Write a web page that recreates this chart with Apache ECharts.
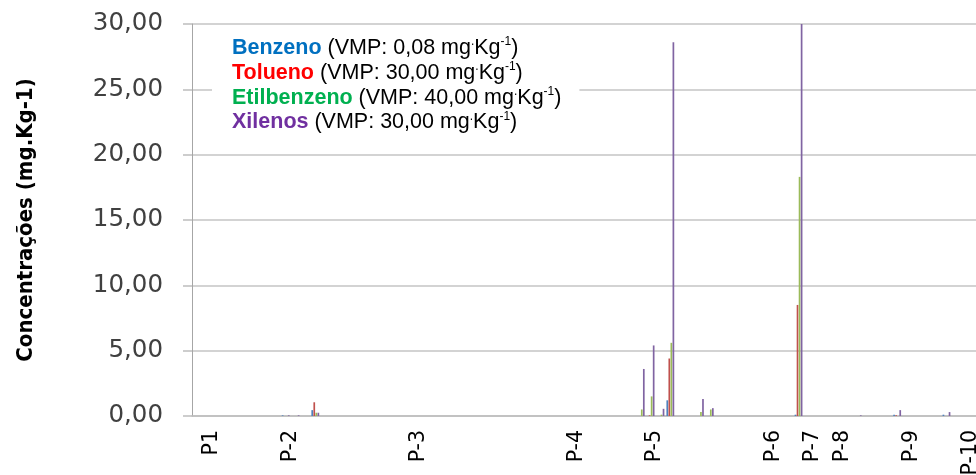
<!DOCTYPE html>
<html>
<head>
<meta charset="utf-8">
<script src="https://cdn.jsdelivr.net/npm/echarts@6/dist/echarts.min.js"></script>
<style>
  html, body { margin: 0; padding: 0; background: #fff; }
  #main { width: 976px; height: 475px; }
</style>
</head>
<body>
<div id="main"></div>
<script>
// 80 amostras no eixo x, só algumas têm rótulo
var sampleCount = 80;
var labelIdx = [1, 9, 22, 38, 46, 58, 62, 65, 72, 78];
var labelTxt = ['P1', 'P-2', 'P-3', 'P-4', 'P-5', 'P-6', 'P-7', 'P-8', 'P-9', 'P-10'];

var names = ['Benzeno', 'Tolueno', 'Etilbenzeno', 'Xilenos'];
var vmp = ['0,08', '30,00', '40,00', '30,00'];
var yTicks = [0, 5, 10, 15, 20, 25, 30];

var benzeno = [
    0, 0, 0, 0, 0, 0, 0, 0, 0, 0.05,
    0, 0, 0.45, 0, 0, 0, 0, 0, 0, 0,
    0, 0, 0, 0, 0, 0, 0, 0, 0, 0,
    0, 0, 0, 0, 0, 0, 0, 0, 0, 0,
    0, 0, 0, 0, 0, 0, 0, 0, 1.2, 0,
    0, 0, 0, 0, 0, 0, 0, 0, 0, 0,
    0, 0.1, 0, 0, 0, 0, 0, 0, 0, 0,
    0, 0.1, 0, 0, 0, 0, 0.1, 0, 0, 0
];
var tolueno = [
    0, 0, 0, 0, 0, 0, 0, 0, 0, 0,
    0, 0, 1.05, 0, 0, 0, 0, 0, 0, 0,
    0, 0, 0, 0, 0, 0, 0, 0, 0, 0,
    0, 0, 0, 0, 0, 0, 0, 0, 0, 0,
    0, 0, 0, 0, 0, 0, 0.05, 0, 4.4, 0,
    0, 0, 0, 0, 0, 0, 0, 0, 0, 0,
    0, 8.5, 0, 0, 0, 0, 0, 0, 0, 0,
    0, 0.05, 0, 0, 0, 0, 0, 0, 0, 0
];
var etilbenzeno = [
    0, 0, 0, 0, 0, 0, 0, 0, 0, 0,
    0, 0, 0.25, 0, 0, 0, 0, 0, 0, 0,
    0, 0, 0, 0, 0, 0, 0, 0, 0, 0,
    0, 0, 0, 0, 0, 0, 0, 0, 0, 0,
    0, 0, 0, 0, 0, 0.5, 1.5, 0.1, 5.6, 0,
    0, 0.3, 0.5, 0, 0, 0, 0, 0, 0, 0,
    0, 18.3, 0, 0, 0, 0, 0, 0, 0, 0,
    0, 0, 0, 0, 0, 0, 0, 0, 0, 0
];
var xilenos = [
    0, 0, 0, 0, 0, 0, 0, 0, 0, 0.05,
    0.05, 0, 0.25, 0, 0, 0, 0, 0, 0, 0,
    0, 0, 0, 0, 0, 0, 0, 0, 0, 0,
    0, 0, 0, 0, 0, 0, 0, 0, 0, 0,
    0, 0, 0, 0, 0, 3.6, 5.4, 0.55, 28.6, 0,
    0, 1.3, 0.6, 0, 0, 0, 0, 0, 0, 0,
    0, 30, 0, 0, 0, 0, 0, 0.05, 0, 0,
    0, 0.45, 0, 0, 0, 0, 0.3, 0, 0, 0
];

var barColors = ['#4F81BD', '#C0504D', '#9BBB59', '#8064A2'];
var legendColors = ['#0070C0', '#FF0000', '#00B050', '#7030A0'];
var richKeys = ['bz', 'to', 'et', 'xi'];

var categories = [];
for (var i = 0; i < sampleCount; i++) categories.push('A' + (i + 1));

var richStyles = {
    t: { color: '#000', fontSize: 21.5, fontFamily: 'Liberation Sans', lineHeight: 24.5 },
    s: { color: '#000', fontSize: 12, fontFamily: 'Liberation Sans', lineHeight: 13, verticalAlign: 'top' }
};
richKeys.forEach(function (k, i) {
    richStyles[k] = { color: legendColors[i], fontSize: 21.5, fontWeight: 'bold', fontFamily: 'Liberation Sans', lineHeight: 24.5 };
});

var allData = [benzeno, tolueno, etilbenzeno, xilenos];

var myChart = echarts.init(document.getElementById('main'));

var option = {
    backgroundColor: '#fff',
    animation: false,
    grid: { left: 192, top: 24, width: 789, height: 392, outerBoundsMode: 'none' },
    legend: {
        data: names,
        orient: 'vertical',
        left: 212,
        top: 26,
        padding: [10, 18, 16, 15],
        backgroundColor: '#fff',
        icon: 'none',
        itemWidth: 0,
        itemHeight: 10,
        itemGap: 1.5,
        selectedMode: false,
        formatter: function (name) {
            var i = names.indexOf(name);
            return '{' + richKeys[i] + '|' + name + '}{t| (VMP: ' + vmp[i] + ' mg}{s|.}{t|Kg}{s|-1}{t|)}';
        },
        textStyle: { rich: richStyles }
    },
    xAxis: {
        type: 'category',
        data: categories,
        axisLine: { lineStyle: { color: '#bdbdbd', width: 1.5 } },
        axisTick: { show: false },
        axisLabel: {
            interval: 0,
            rotate: 90,
            margin: 14,
            color: '#000',
            fontSize: 20.5,
            fontFamily: 'DejaVu Sans',
            verticalAlign: 'top',
            lineHeight: 9,
            formatter: function (v, idx) {
                var k = labelIdx.indexOf(idx);
                return k >= 0 ? labelTxt[k] : '';
            }
        }
    },
    yAxis: {
        type: 'value',
        min: yTicks[0],
        max: yTicks[yTicks.length - 1],
        interval: 5,
        name: 'Concentrações (mg.Kg-1)',
        nameLocation: 'middle',
        nameRotate: 90,
        nameGap: 155,
        nameTextStyle: {
            color: '#000',
            fontSize: 22,
            fontWeight: 'bold',
            fontFamily: '"DejaVu Sans Condensed", "Liberation Sans Narrow", "DejaVu Sans"'
        },
        axisLine: { show: true, lineStyle: { color: '#a6a6a6', width: 1 } },
        axisTick: { show: true, length: 9, lineStyle: { color: '#bdbdbd', width: 1.5 } },
        splitLine: { lineStyle: { color: '#c4c4c4', width: 1.5 } },
        axisLabel: {
            margin: 29,
            color: '#404040',
            fontSize: 24.5,
            fontFamily: 'DejaVu Sans',
            formatter: function (v) { return v.toFixed(2).replace('.', ','); }
        }
    },
    series: names.map(function (n, i) {
        return {
            name: n,
            type: 'bar',
            data: allData[i],
            barWidth: 1.7,
            barGap: '20%',
            itemStyle: { color: barColors[i] }
        };
    })
};

myChart.setOption(option);
</script>
</body>
</html>
